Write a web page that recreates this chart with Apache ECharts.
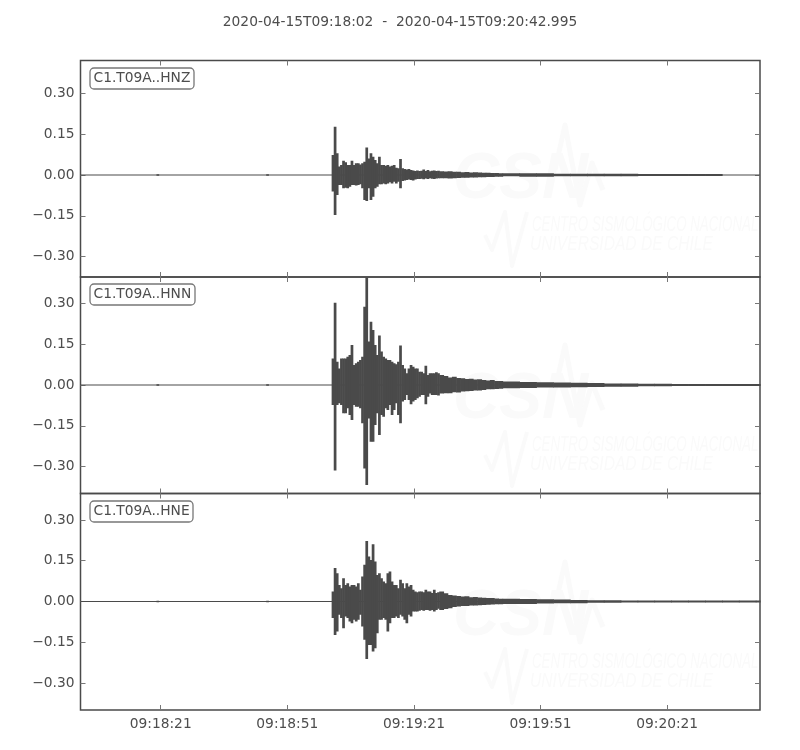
<!DOCTYPE html>
<html><head><meta charset="utf-8">
<style>html,body{margin:0;padding:0;background:#fff}#c{width:800px;height:750px}</style>
<script src="https://cdn.jsdelivr.net/npm/echarts@6/dist/echarts.min.js"></script>
</head><body><div id="c"></div>
<script>
const chartTitle = "2020-04-15T09:18:02  -  2020-04-15T09:20:42.995";
const channels = ["C1.T09A..HNZ", "C1.T09A..HNN", "C1.T09A..HNE"];
const xTickSeconds = [19, 49, 79, 109, 139];
const xTickLabels = ["09:18:21", "09:18:51", "09:19:21", "09:19:51", "09:20:21"];
const yTicks = [-0.30, -0.15, 0, 0.15, 0.30];
const duration = 160.995;

// envelope sample times (s after 09:18:02)
const preTimes = [18, 18.5, 44, 44.5, 59];
const preAmp = [0.0025, 0, 0.0025, 0, 0];
const strongTimes = [59.5,60,60.5,61,61.5,62,62.5,63,63.5,64,64.5,65,65.5,66,66.5,67,67.5,68,68.5,69,69.5,70,70.5,71,71.5,72,72.5,73,73.5,74,74.5,75,75.5,76,76.5,77,77.5,78,78.5,79,79.5,80,80.5,81,81.5,82,82.5,83,83.5,84,84.5,85];
const codaTimes = [86,87,88,89,90,91,92,93,94,95,96,97,98,99,100,104,108,112,116,120,124,128,132,136,140,144,148,152,156,160];

const hnzUpper = [.074,.178,.080,.031,.037,.052,.047,.037,.037,.052,.037,.043,.043,.039,.043,.049,.101,.061,.080,.067,.055,.043,.067,.037,.037,.034,.037,.031,.034,.037,.027,.025,.059,.025,.022,.020,.022,.018,.017,.015,.017,.015,.016,.020,.015,.018,.014,.016,.017,.015,.016,.014,
 .013,.014,.012,.012,.010,.011,.009,.010,.009,.008,.008,.007,.007,.006,.006,.006,.006,.005,.005,.005,.005,.0045,.004,.004,.004,.004,.004,0,0,0];
const hnzLower = [.061,.147,.074,.037,.037,.049,.047,.049,.043,.037,.037,.039,.037,.034,.049,.092,.096,.049,.092,.080,.049,.043,.034,.034,.031,.034,.031,.027,.031,.025,.031,.025,.049,.022,.020,.018,.017,.018,.020,.017,.015,.015,.014,.016,.013,.015,.012,.014,.015,.013,.012,.012,
 .012,.013,.012,.011,.010,.010,.009,.009,.008,.008,.007,.007,.006,.006,.005,.006,.006,.005,.005,.005,.005,.0045,.004,.004,.004,.004,.004,0,0,0];
const hnnUpper = [.098,.303,.086,.061,.098,.098,.098,.104,.110,.147,.074,.080,.086,.092,.104,.288,.396,.160,.233,.202,.147,.110,.182,.123,.104,.098,.092,.092,.086,.080,.076,.086,.145,.074,.061,.043,.061,.074,.067,.061,.061,.049,.049,.043,.071,.037,.043,.043,.043,.047,.043,.037,
 .033,.028,.030,.026,.025,.022,.023,.020,.021,.018,.017,.018,.015,.015,.013,.011,.010,.009,.008,.007,.006,.006,.005,.005,.004,.004,.004,.004,.004,.004];
const hnnLower = [.074,.315,.074,.067,.074,.104,.104,.086,.110,.129,.074,.080,.080,.086,.141,.307,.368,.123,.209,.209,.147,.104,.184,.110,.117,.086,.092,.074,.110,.092,.067,.110,.141,.061,.055,.037,.055,.071,.061,.055,.049,.043,.037,.037,.071,.043,.031,.037,.037,.037,.039,.031,
 .030,.030,.027,.028,.024,.023,.022,.020,.020,.018,.016,.016,.015,.014,.012,.011,.009,.009,.008,.007,.006,.006,.005,.005,.004,.004,.004,.004,.004,.004];
const hneUpper = [.037,.123,.104,.061,.049,.086,.061,.067,.055,.061,.061,.055,.067,.043,.092,.135,.223,.166,.153,.211,.147,.098,.104,.086,.074,.067,.104,.110,.074,.061,.061,.049,.080,.067,.049,.067,.055,.061,.043,.037,.034,.037,.037,.034,.043,.037,.037,.031,.043,.031,.034,.037,
 .030,.024,.022,.020,.018,.019,.016,.017,.015,.014,.013,.013,.011,.010,.010,.009,.008,.007,.006,.005,.005,.004,.004,.004,.004,.004,.004,.004,.004,.0035];
const hneLower = [.061,.123,.110,.049,.061,.098,.055,.061,.074,.080,.067,.074,.067,.049,.092,.141,.212,.160,.160,.184,.172,.117,.067,.067,.061,.067,.110,.080,.061,.061,.055,.061,.049,.055,.067,.080,.049,.055,.037,.037,.037,.034,.031,.034,.031,.031,.034,.031,.037,.031,.027,.031,
 .028,.025,.020,.018,.017,.017,.015,.015,.014,.013,.012,.011,.010,.010,.009,.009,.007,.006,.006,.005,.005,.004,.004,.004,.004,.004,.004,.004,.004,.0035];
const uppers = [hnzUpper, hnnUpper, hneUpper];
const lowers = [hnzLower, hnnLower, hneLower];
const yRanges = [[-0.3754, 0.4214], [-0.3993, 0.3975], [-0.3993, 0.3975]];

const INK = "#4a4a4a", TICK = "#777", TXT = "#4d4d4d", FONT = "DejaVu Sans", FS = 13.8;
const left = 80.5, width = 679.5;
const tops = [60.5, 277, 493.5];
const heights = [216.5, 216.5, 216.5];

// One row per envelope sample: start time, end time, top value, bottom value.
function bands(up, low) {
  const T = preTimes.concat(strongTimes, codaTimes, [duration]);
  const U = preAmp.concat(up);
  const L = preAmp.concat(low);
  const rows = [];
  for (let i = 0; i < U.length; i++) {
    if (U[i] === 0 && L[i] === 0) continue;
    rows.push([T[i], T[i + 1], U[i], -L[i]]);
  }
  return rows;
}
function renderBand(params, api) {
  const a = api.coord([api.value(0), api.value(2)]);
  const b = api.coord([api.value(1), api.value(3)]);
  return { type: "rect", shape: { x: a[0], y: a[1], width: b[0] - a[0] + 0.6, height: b[1] - a[1] },
    style: { fill: INK } };
}
const fmtY = v => (v < 0 ? "\u2212" : "") + Math.abs(v).toFixed(2);

const grid = [], xAxis = [], yAxis = [], series = [], title = [], graphic = [];
title.push({ text: chartTitle, left: 395, top: 9, textAlign: "center",
  textStyle: { fontFamily: FONT, fontSize: FS, fontWeight: "normal", color: TXT, lineHeight: 16 } });

channels.forEach((name, i) => {
  grid.push({ left, width, top: tops[i], height: heights[i], show: true,
    borderColor: INK, borderWidth: 1.5, backgroundColor: "transparent" });
  const tick = { show: true, inside: true, length: 5, lineStyle: { color: TICK, width: 1 } };
  const xBase = { type: "value", gridIndex: i, min: 0, max: duration, splitLine: { show: false },
    axisLine: { show: false, onZero: false } };
  xAxis.push(Object.assign({}, xBase, { position: "bottom",
    axisTick: Object.assign({ customValues: xTickSeconds }, tick),
    axisLabel: { show: i === 2, customValues: xTickSeconds, margin: 7, fontFamily: FONT, fontSize: FS, color: TXT,
      formatter: v => xTickLabels[xTickSeconds.indexOf(Math.round(v))] || "" } }));
  xAxis.push(Object.assign({}, xBase, { position: "top",
    axisTick: Object.assign({ customValues: xTickSeconds }, tick), axisLabel: { show: false } }));
  const yBase = { type: "value", gridIndex: i, min: yRanges[i][0], max: yRanges[i][1],
    splitLine: { show: false }, axisLine: { show: false, onZero: false } };
  yAxis.push(Object.assign({}, yBase, { position: "left",
    axisTick: Object.assign({ customValues: yTicks }, tick),
    axisLabel: { customValues: yTicks, margin: 6, fontFamily: FONT, fontSize: FS, color: TXT, formatter: fmtY } }));
  yAxis.push(Object.assign({}, yBase, { position: "right",
    axisTick: Object.assign({ customValues: yTicks }, tick), axisLabel: { show: false } }));
  // zero baseline
  series.push({ type: "line", name, xAxisIndex: i * 2, yAxisIndex: i * 2, data: [[0, 0], [duration, 0]],
    symbol: "none", animation: false, silent: true, lineStyle: { color: INK, width: 1.2 }, z: 4 });
  // waveform envelope
  series.push({ type: "custom", name, xAxisIndex: i * 2, yAxisIndex: i * 2, data: bands(uppers[i], lowers[i]),
    renderItem: renderBand, encode: { x: [0, 1], y: [2, 3] }, animation: false, silent: true, z: 5, clip: true });
  title.push({ text: name, left: 89.5, top: [67.5, 283.5, 500.5][i], padding: [3, 4, 3, 4],
    borderColor: "#777", borderWidth: 1.3, borderRadius: 4, backgroundColor: "#fff",
    textStyle: { fontFamily: FONT, fontSize: FS, fontWeight: "normal", color: TXT, lineHeight: 15.5 }, z: 6 });

  // faint institutional watermark behind each panel
  const dy = [0, 220, 437][i];
  const wm = "#fafafa";
  graphic.push(
    { type: "text", z: 1, left: 453, top: 148 + dy, style: { text: "CSN", fill: wm, font: "italic bold 64px 'Liberation Sans'" } },
    { type: "polyline", z: 1, shape: { points: [[555, 170], [565, 125], [580, 205], [592, 163], [603, 190]].map(p => [p[0], p[1] + dy]) },
      style: { stroke: wm, lineWidth: 5, fill: null, lineJoin: "round" } },
    { type: "polyline", z: 1, shape: { points: [[485, 235], [492, 250], [505, 212], [512, 266], [527, 212]].map(p => [p[0], p[1] + dy]) },
      style: { stroke: wm, lineWidth: 4, fill: null, lineJoin: "round" } },
    { type: "text", z: 1, left: 532, top: 214 + dy, scaleX: 0.605, style: { text: "CENTRO SISMOLÓGICO NACIONAL", fill: wm, font: "italic 22px 'Liberation Sans'" } },
    { type: "text", z: 1, left: 530, top: 234 + dy, scaleX: 0.78, style: { text: "UNIVERSIDAD DE CHILE", fill: wm, font: "italic 20px 'Liberation Sans'" } }
  );
});

const chart = echarts.init(document.getElementById("c"), null, { renderer: "canvas" });
chart.setOption({ animation: false, backgroundColor: "#fff", title, grid, xAxis, yAxis, series, graphic });
</script></body></html>
